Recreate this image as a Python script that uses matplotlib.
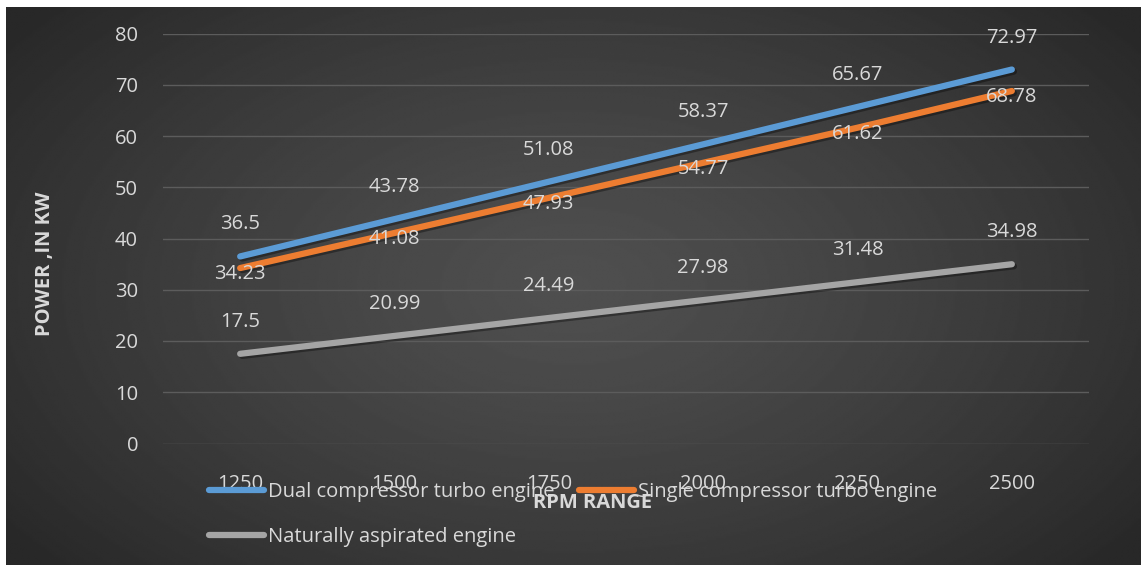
import numpy as np
import matplotlib.pyplot as plt
from matplotlib import patheffects as pe

plt.rcParams["font.family"] = ["Open Sans", "DejaVu Sans"]

# engine speed categories and power output (kW)
rpm = ["1250", "1500", "1750", "2000", "2250", "2500"]
dual_turbo = [36.5, 43.78, 51.08, 58.37, 65.67, 72.97]
single_turbo = [34.23, 41.08, 47.93, 54.77, 61.62, 68.78]
natural = [17.5, 20.99, 24.49, 27.98, 31.48, 34.98]

TXT = "#d9d9d9"
FS = 14.5
W, H = 1141, 565

fig = plt.figure(figsize=(W / 100, H / 100), dpi=100, facecolor="white")

# dark radial background, like an office chart style
bg = fig.add_axes([6 / W, 0, 1 - 6 / W, 1 - 7 / H], zorder=-5)
yy, xx = np.mgrid[0:1:300j, 0:1:600j]
r = np.sqrt(((xx - 0.5) / 0.62) ** 2 + ((yy - 0.5) / 0.75) ** 2)
shade = 0.31 - 0.15 * np.clip(r, 0, 1) ** 1.3
bg.imshow(shade, cmap="gray", vmin=0, vmax=1, aspect="auto",
          interpolation="bilinear")
bg.axis("off")

ax = fig.add_axes([163 / W, 1 - 443.5 / H, 926 / W, 410 / H])
ax.set_facecolor("none")
x = np.arange(len(rpm))

shadow = [pe.SimpleLineShadow(offset=(1.5, -1.5), shadow_color="black",
                              alpha=0.35), pe.Normal()]
series = [
    (dual_turbo, "#5b9bd5", "Dual compressor turbo engine", 23),
    (single_turbo, "#ed7d31", "Single compressor turbo engine", -4.5),
    (natural, "#a5a5a5", "Naturally aspirated engine", 23),
]
handles = []
for vals, col, name, dy in series:
    ln, = ax.plot(x, vals, color=col, lw=4.5, solid_capstyle="round",
                  label=name, path_effects=shadow, zorder=3)
    handles.append(ln)
    for xi, v in zip(x, vals):
        ax.annotate(f"{v:g}", (xi, v), xytext=(0, dy),
                    textcoords="offset points", ha="center", va="center",
                    color=TXT, fontsize=FS, zorder=4)

ax.set_xlim(-0.5, len(rpm) - 0.5)
ax.set_ylim(0, 80)
ax.set_yticks(range(0, 81, 10))
ax.set_xticks(x)
ax.set_xticklabels(rpm)
ax.grid(axis="y", color="#5c5c5c", lw=1)
ax.set_axisbelow(True)
for s in ax.spines.values():
    s.set_visible(False)
ax.tick_params(axis="both", length=0, colors=TXT, labelsize=FS)
ax.tick_params(axis="y", pad=18)
ax.tick_params(axis="x", pad=22)

fig.text(45 / W, 1 - 264 / H, "POWER ,IN KW", rotation=90, ha="center",
         va="center", color=TXT, fontsize=FS, fontweight="bold")
fig.text(593 / W, 1 - 503 / H, "RPM RANGE", ha="center", va="center",
         color=TXT, fontsize=FS, fontweight="bold")

# row-major order for a 2-column legend
order = [handles[0], handles[2], handles[1]]
leg = fig.legend(order, [h.get_label() for h in order], ncol=2,
                 loc="upper center", bbox_to_anchor=(573 / W, 1 - 464 / H),
                 frameon=False, fontsize=FS, labelcolor=TXT,
                 handlelength=2.75, handletextpad=0.2, columnspacing=1.2,
                 labelspacing=1.25)
for h in leg.legend_handles:
    h.set_linewidth(4.5)
    h.set_path_effects([])

fig.savefig("out.png", dpi=100, facecolor="white")
